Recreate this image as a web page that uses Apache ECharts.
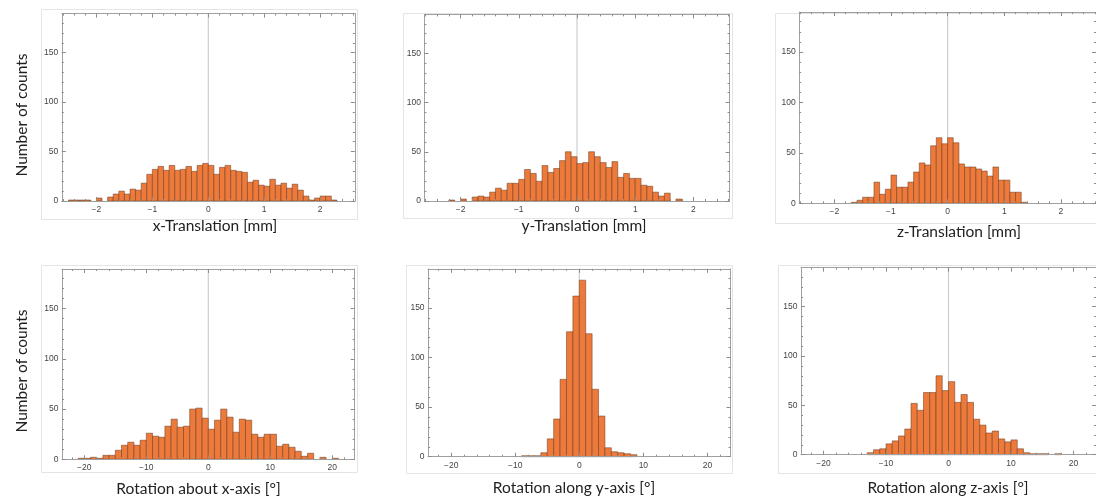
<!DOCTYPE html>
<html>
<head>
<meta charset="utf-8">
<title>Positioning error histograms</title>
<script src="https://cdn.jsdelivr.net/npm/echarts@6/dist/echarts.min.js"></script>
<style>
  html, body { margin: 0; padding: 0; background: #ffffff; }
  #chart { width: 1096px; height: 500px; }
</style>
</head>
<body>
<div id="chart"></div>
<script>
// Histogram counts per bin (bin left edge = start + i * step)
const xTransStart = -2.5, transStep = 0.1;
const xTransCounts = [1,1,1,1,0,3,0,4,7,10,7,12,11,18,27,32,35,31,36,31,32,35,30,36,38,36,27,34,36,31,30,29,19,21,16,15,22,16,18,13,17,11,5,1,3,5,5,1];
const yTransStart = -2.2;
const yTransCounts = [1,0,2,0,4,5,4,9,13,11,18,18,22,32,28,20,36,29,33,41,50,45,38,39,50,45,39,34,40,24,28,23,23,16,15,9,5,8,0,2];
const zTransStart = -1.7;
const zTransCounts = [1,3,6,6,21,9,14,28,16,16,21,31,40,38,57,65,59,65,60,39,36,36,34,32,27,36,23,23,11,11,1];

const xRotStart = -21, rotStep = 1;
const xRotCounts = [1,1,2,1,4,4,9,14,17,14,19,26,23,22,33,40,32,33,50,51,41,30,39,50,42,27,40,39,25,22,25,25,13,15,12,8,3,6,0,2,0,1];
const yRotStart = -9;
const yRotCounts = [1,1,1,4,18,38,78,126,162,178,124,68,41,9,5,4,3,2];
const zRotStart = -13;
const zRotCounts = [2,5,6,11,14,19,26,52,45,63,63,80,65,74,53,61,53,36,30,22,24,16,13,15,6,2,1,1,1,0,1];

// Axis ranges and tick values
const countMax = 189.5;
const transRange = 2.62;
const rotRange = 23.6;
const transMajor = [-2, -1, 0, 1, 2];
const transMinor = [-2.6,-2.4,-2.2,-1.8,-1.6,-1.4,-1.2,-0.8,-0.6,-0.4,-0.2,0.2,0.4,0.6,0.8,1.2,1.4,1.6,1.8,2.2,2.4,2.6];
const rotMajor = [-20, -10, 0, 10, 20];
const rotMinor = [-22,-18,-16,-14,-12,-8,-6,-4,-2,2,4,6,8,12,14,16,18,22];
const countMajor = [0, 50, 100, 150];
const countMinor = [10,20,30,40,60,70,80,90,110,120,130,140,160,170,180];

const yTitle = 'Number of counts';

const panels = [
  { grid: { left: 61.8, top: 13.6, width: 293.0, height: 187.4 }, range: transRange, major: transMajor, minor: transMinor,
    start: xTransStart, step: transStep, counts: xTransCounts, title: 'x-Translation [mm]', tx: 215, ty: 226 },
  { grid: { left: 424.4, top: 14.4, width: 305.2, height: 186.6 }, range: transRange, major: transMajor, minor: transMinor,
    start: yTransStart, step: transStep, counts: yTransCounts, title: 'y-Translation [mm]', tx: 584, ty: 225.5 },
  { grid: { left: 799.2, top: 12.1, width: 302.2, height: 191.2 }, range: transRange, major: transMajor, minor: transMinor,
    start: zTransStart, step: transStep, counts: zTransCounts, title: 'z-Translation [mm]', tx: 959, ty: 231.5 },
  { grid: { left: 62.0, top: 269.0, width: 292.6, height: 190.3 }, range: rotRange, major: rotMajor, minor: rotMinor,
    start: xRotStart, step: rotStep, counts: xRotCounts, title: 'Rotation about x-axis [°]', tx: 198.5, ty: 488.5 },
  { grid: { left: 428.1, top: 268.8, width: 302.4, height: 187.9 }, range: rotRange, major: rotMajor, minor: rotMinor,
    start: yRotStart, step: rotStep, counts: yRotCounts, title: 'Rotation along y-axis [°]', tx: 574, ty: 487.5 },
  { grid: { left: 801.0, top: 267.7, width: 298.5, height: 187.0 }, range: rotRange, major: rotMajor, minor: rotMinor,
    start: zRotStart, step: rotStep, counts: zRotCounts, title: 'Rotation along z-axis [°]', tx: 948, ty: 487.5 }
];

const frameColor = '#a0a0a0';
const tickColor = '#8c8c8c';
const labelColor = '#444444';
const barFill = '#ED7A3A';
const barEdge = 'rgba(105,58,32,0.75)';
const zeroLineColor = '#cdcdcd';
const titleFont = '15.5px Lato';

function fmt(v) {
  return v < 0 ? '\u2212' + Math.abs(v) : String(v);
}

function makeAxis(kind, g, pos, min, max, ticks, len, withLabels, withLine) {
  return {
    type: 'value', gridIndex: g, position: pos, min: min, max: max, z: 3,
    axisLine: { show: withLine, onZero: false, lineStyle: { color: frameColor, width: 1 } },
    axisTick: { show: true, inside: true, length: len, customValues: ticks, lineStyle: { color: tickColor, width: 1 } },
    axisLabel: withLabels ? {
      show: true, customValues: ticks, formatter: fmt,
      margin: kind === 'x' ? 4 : 3.5,
      fontFamily: 'Liberation Sans', fontSize: 8.5, color: labelColor
    } : { show: false },
    splitLine: { show: false }
  };
}

const grids = [], xAxes = [], yAxes = [], series = [], graphics = [];

panels.forEach(function (p, g) {
  grids.push(Object.assign({ containLabel: false, show: false }, p.grid));
  const base = xAxes.length;
  xAxes.push(makeAxis('x', g, 'bottom', -p.range, p.range, p.major, 4, true, true));
  xAxes.push(makeAxis('x', g, 'bottom', -p.range, p.range, p.minor, 2, false, false));
  xAxes.push(makeAxis('x', g, 'top', -p.range, p.range, p.major, 4, false, true));
  xAxes.push(makeAxis('x', g, 'top', -p.range, p.range, p.minor, 2, false, false));
  yAxes.push(makeAxis('y', g, 'left', 0, countMax, countMajor, 4, true, true));
  yAxes.push(makeAxis('y', g, 'left', 0, countMax, countMinor, 2, false, false));
  yAxes.push(makeAxis('y', g, 'right', 0, countMax, countMajor, 4, false, true));
  yAxes.push(makeAxis('y', g, 'right', 0, countMax, countMinor, 2, false, false));

  // vertical axis line at x = 0, behind the bars
  series.push({
    type: 'line', xAxisIndex: base, yAxisIndex: base, z: 1, silent: true,
    symbol: 'none', data: [[0, 0], [0, countMax]],
    lineStyle: { color: zeroLineColor, width: 1.2 }
  });

  const bins = p.counts.map(function (c, i) {
    const x0 = Math.round((p.start + i * p.step) * 1000) / 1000;
    const x1 = Math.round((p.start + (i + 1) * p.step) * 1000) / 1000;
    return [x0, x1, c];
  }).filter(function (d) { return d[2] > 0; });

  series.push({
    type: 'custom', xAxisIndex: base, yAxisIndex: base, z: 2, silent: true,
    encode: { x: [0, 1], y: 2 },
    data: bins,
    renderItem: function (params, api) {
      const top = api.coord([api.value(0), api.value(2)]);
      const bot = api.coord([api.value(1), 0]);
      return {
        type: 'rect',
        shape: { x: top[0], y: top[1], width: bot[0] - top[0], height: bot[1] - top[1] },
        style: { fill: barFill, stroke: barEdge, lineWidth: 0.7 }
      };
    }
  });

  graphics.push({
    type: 'text', x: p.tx, y: p.ty, silent: true,
    style: { text: p.title, font: titleFont, fill: '#222222', align: 'center', verticalAlign: 'middle' }
  });
});

// rotated count titles on the left column
graphics.push({
  type: 'text', x: 22, y: 115, rotation: Math.PI / 2, silent: true,
  style: { text: yTitle, font: titleFont, fill: '#222222', align: 'center', verticalAlign: 'middle' }
});
graphics.push({
  type: 'text', x: 22, y: 371, rotation: Math.PI / 2, silent: true,
  style: { text: yTitle, font: titleFont, fill: '#222222', align: 'center', verticalAlign: 'middle' }
});

// faint outlines around each plot card
const cardLine = '#e4e4e4';
[
  [41, 9, 316, 210], [403, 13, 329, 205], [775, 13, 330, 210],
  [41, 265, 316, 207], [406, 265, 326, 208], [778, 265, 330, 208]
].forEach(function (r) {
  graphics.push({
    type: 'rect', silent: true, z: -1,
    shape: { x: r[0] + 0.5, y: r[1] + 0.5, width: r[2], height: r[3] },
    style: { fill: null, stroke: cardLine, lineWidth: 1 }
  });
});

const chart = echarts.init(document.getElementById('chart'), null, { renderer: 'canvas' });
chart.setOption({
  animation: false,
  backgroundColor: '#ffffff',
  grid: grids,
  xAxis: xAxes,
  yAxis: yAxes,
  series: series,
  graphic: graphics
});
</script>
</body>
</html>
